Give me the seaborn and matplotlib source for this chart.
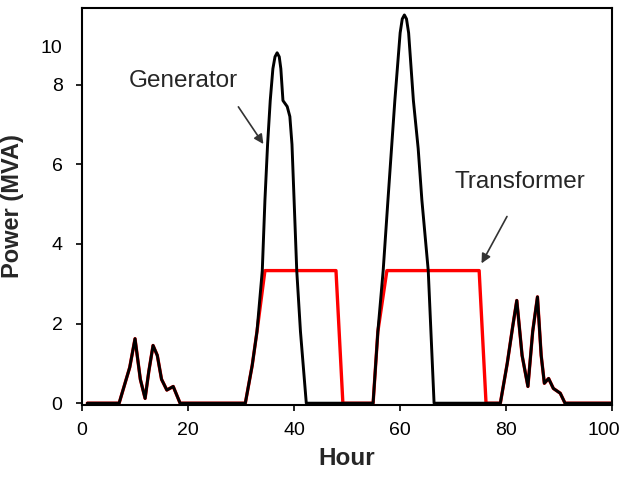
import matplotlib
matplotlib.use("Agg")
import matplotlib.pyplot as plt
import matplotlib.transforms as mtransforms
import seaborn as sns
import pandas as pd

# values (hour, MVA)
gen_hours = [1, 7, 8, 9, 10, 11, 11.9, 12.6, 13.4, 14.2, 15, 16, 17.2, 18.5,
             30.8, 32.1, 33.0, 34.0, 34.5, 35.0, 35.5, 36.0, 36.4, 36.8, 37.2,
             37.5, 37.9, 38.7, 39.2, 39.6, 40.0, 40.5, 41.2, 42.3,
             54.9, 55.8, 56.8, 57.7, 59.0, 60.0, 60.4, 60.8, 61.2, 61.6, 62.5,
             63.4, 64.1, 65.3, 66.4,
             78.9, 80.2, 81.2, 82.0, 83.0, 84.1, 85.0, 85.9, 86.6, 87.2, 88.0,
             88.9, 90.2, 91.1, 100]
gen_power = [0, 0, 0.45, 0.9, 1.62, 0.6, 0.12, 0.8, 1.45, 1.2, 0.6, 0.33, 0.42, 0,
             0, 0.95, 1.8, 3.33, 5.1, 6.5, 7.6, 8.4, 8.7, 8.8, 8.7,
             8.4, 7.6, 7.45, 7.2, 6.5, 5.1, 3.33, 1.8, 0,
             0, 1.8, 3.33, 5.1, 7.6, 9.3, 9.65, 9.75, 9.65, 9.3, 7.6,
             6.4, 5.1, 3.33, 0,
             0, 1.0, 1.9, 2.58, 1.2, 0.42, 1.8, 2.67, 1.2, 0.5, 0.62,
             0.37, 0.25, 0, 0]

tr_hours = [1, 7, 8, 9, 10, 11, 11.9, 12.6, 13.4, 14.2, 15, 16, 17.2, 18.5,
            30.8, 32.1, 33.0, 34.5, 47.9, 49.2,
            54.9, 55.8, 57.5, 74.9, 76.2,
            78.9, 80.2, 81.2, 82.0, 83.0, 84.1, 85.0, 85.9, 86.6, 87.2, 88.0,
            88.9, 90.2, 91.1, 100]
tr_power = [0, 0, 0.45, 0.9, 1.62, 0.6, 0.12, 0.8, 1.45, 1.2, 0.6, 0.33, 0.42, 0,
            0, 0.95, 1.8, 3.33, 3.33, 0,
            0, 1.8, 3.33, 3.33, 0,
            0, 1.0, 1.9, 2.58, 1.2, 0.42, 1.8, 2.67, 1.2, 0.5, 0.62,
            0.37, 0.25, 0, 0]

x_ticks = [0, 20, 40, 60, 80, 100]
y_ticks = [0, 2, 4, 6, 8, 8.95]
y_ticklabels = ["0", "2", "4", "6", "8", "10"]

gen_df = pd.DataFrame({"Hour": gen_hours, "Power": gen_power})
tr_df = pd.DataFrame({"Hour": tr_hours, "Power": tr_power})

sns.set_style("ticks")
plt.rcParams["font.family"] = ["Liberation Sans Narrow", "Liberation Sans", "DejaVu Sans"]

fig = plt.figure(figsize=(6.26, 4.87), dpi=100)
ax = fig.add_axes([0.131, 0.168, 0.847, 0.816])

sns.lineplot(data=tr_df, x="Hour", y="Power", color="#ff0000", lw=2.4,
             estimator=None, ax=ax, zorder=2)
sns.lineplot(data=gen_df, x="Hour", y="Power", color="black", lw=2.1,
             estimator=None, ax=ax, zorder=3)

ax.set_xlim(0, 100)
ax.set_ylim(-0.05, 9.93)
ax.set_xticks(x_ticks)
ax.set_xticklabels([str(t) for t in x_ticks])
ax.set_yticks(y_ticks)
ax.set_yticklabels(y_ticklabels)
# the "10" label sits on the axis without a tick mark
ax.yaxis.get_major_ticks()[-1].tick1line.set_visible(False)

ax.tick_params(axis="both", direction="out", length=4, width=1.2,
               labelsize=14, colors="black")
ax.tick_params(axis="y", pad=10)
ax.tick_params(axis="x", pad=8)
for s in ax.spines.values():
    s.set_linewidth(1.5)
    s.set_color("black")

# keep the "100" label inside the figure, as in the reference
last = ax.get_xticklabels()[-1]
last.set_transform(last.get_transform() +
                   mtransforms.ScaledTranslation(-6 / 72, 0, fig.dpi_scale_trans))

ax.set_xlabel("Hour", fontsize=17.5, fontweight="bold", labelpad=6)
ax.set_ylabel("Power (MVA)", fontsize=17, fontweight="bold",
              family=["Liberation Sans", "DejaVu Sans"], labelpad=12)

ax.text(19.1, 8.1, "Generator", fontsize=17.5, ha="center", va="center")
ax.annotate("", xy=(34.5, 6.45), xytext=(29.2, 7.5),
            arrowprops=dict(arrowstyle="-|>", color="#333333", lw=1.2,
                            mutation_scale=14))
ax.text(82.6, 5.55, "Transformer", fontsize=17.5, ha="center", va="center")
ax.annotate("", xy=(75.1, 3.45), xytext=(80.4, 4.75),
            arrowprops=dict(arrowstyle="-|>", color="#333333", lw=1.2,
                            mutation_scale=14))

fig.savefig("out.png", dpi=100)
